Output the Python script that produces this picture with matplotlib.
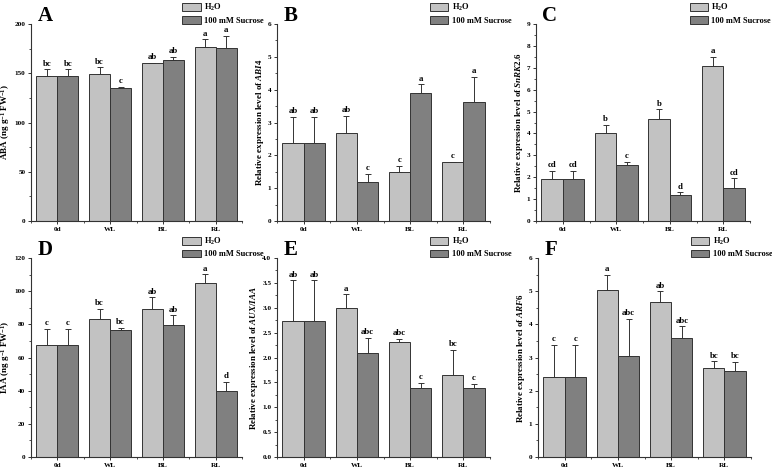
import matplotlib
matplotlib.use("Agg")
import matplotlib.pyplot as plt
import numpy as np
from matplotlib.patches import Patch
from matplotlib.ticker import MultipleLocator, FormatStrFormatter

groups = ["0d", "WL", "BL", "RL"]

# mean values (H2O, sucrose) and upper error bars
aba_h2o = [147, 149.5, 160.3, 176.3]
aba_suc = [147, 135, 163.7, 176]
aba_h2o_err = [7, 6.5, 0.5, 8]
aba_suc_err = [7, 1, 3.3, 12]
aba_h2o_lab = ["bc", "bc", "ab", "a"]
aba_suc_lab = ["bc", "c", "ab", "a"]

abi4_h2o = [2.37, 2.68, 1.49, 1.79]
abi4_suc = [2.37, 1.19, 3.91, 3.62]
abi4_h2o_err = [0.8, 0.53, 0.19, 0.02]
abi4_suc_err = [0.8, 0.25, 0.25, 0.77]
abi4_h2o_lab = ["ab", "ab", "c", "c"]
abi4_suc_lab = ["ab", "c", "a", "a"]

snrk_h2o = [1.93, 4.02, 4.66, 7.07]
snrk_suc = [1.93, 2.57, 1.19, 1.52]
snrk_h2o_err = [0.35, 0.38, 0.44, 0.43]
snrk_suc_err = [0.35, 0.12, 0.12, 0.43]
snrk_h2o_lab = ["cd", "b", "b", "a"]
snrk_suc_lab = ["cd", "c", "d", "cd"]

iaa_h2o = [67.6, 83.5, 89.4, 104.9]
iaa_suc = [67.6, 76.7, 79.3, 39.9]
iaa_h2o_err = [9.7, 5.9, 6.8, 5.2]
iaa_suc_err = [9.7, 1.2, 6.1, 5.6]
iaa_h2o_lab = ["c", "bc", "ab", "a"]
iaa_suc_lab = ["c", "bc", "ab", "d"]

aux_h2o = [2.74, 3.0, 2.31, 1.65]
aux_suc = [2.74, 2.09, 1.39, 1.38]
aux_h2o_err = [0.81, 0.27, 0.06, 0.5]
aux_suc_err = [0.81, 0.3, 0.1, 0.09]
aux_h2o_lab = ["ab", "a", "abc", "bc"]
aux_suc_lab = ["ab", "abc", "c", "c"]

arf6_h2o = [2.4, 5.05, 4.66, 2.69]
arf6_suc = [2.4, 3.06, 3.6, 2.6]
arf6_h2o_err = [0.99, 0.45, 0.33, 0.19]
arf6_suc_err = [0.99, 1.1, 0.34, 0.27]
arf6_h2o_lab = ["c", "a", "ab", "bc"]
arf6_suc_lab = ["c", "abc", "abc", "bc"]

plt.rcParams.update({
    "font.family": "Liberation Serif",
    "font.weight": "bold",
    "mathtext.fontset": "custom",
    "mathtext.rm": "Liberation Serif:bold",
    "mathtext.it": "Liberation Serif:bold:italic",
    "mathtext.bf": "Liberation Serif:bold",
    "axes.linewidth": 0.8,
    "axes.edgecolor": "#333333",
})

C_H2O = "#c2c2c2"
C_SUC = "#808080"
EDGE = "#333333"

fig = plt.figure(figsize=(7.72, 4.70), dpi=100)

W, H = 772, 470


def rect(x0, x1, ytop, ybot):
    return [x0 / W, 1 - ybot / H, (x1 - x0) / W, (ybot - ytop) / H]


panels = [
    ("A", rect(31, 242, 24, 221), aba_h2o, aba_suc, aba_h2o_err, aba_suc_err,
     aba_h2o_lab, aba_suc_lab, 200, 50, 25, "%d",
     r"ABA (ng g$^{-1}$ FW$^{-1}$)"),
    ("B", rect(277, 490, 24, 221), abi4_h2o, abi4_suc, abi4_h2o_err, abi4_suc_err,
     abi4_h2o_lab, abi4_suc_lab, 6, 1, 0.5, "%d",
     r"Relative expression level of $ABI4$"),
    ("C", rect(536, 750, 24, 221), snrk_h2o, snrk_suc, snrk_h2o_err, snrk_suc_err,
     snrk_h2o_lab, snrk_suc_lab, 9, 1, 0.5, "%d",
     r"Relative expression level of $SnRK2.6$"),
    ("D", rect(31, 242, 258, 457), iaa_h2o, iaa_suc, iaa_h2o_err, iaa_suc_err,
     iaa_h2o_lab, iaa_suc_lab, 120, 20, 10, "%d",
     r"IAA (ng g$^{-1}$ FW$^{-1}$)"),
    ("E", rect(277, 490, 258, 457), aux_h2o, aux_suc, aux_h2o_err, aux_suc_err,
     aux_h2o_lab, aux_suc_lab, 4, 0.5, 0.25, "%.1f",
     r"Relative expression level of $AUX/IAA$"),
    ("F", rect(538, 751, 258, 457), arf6_h2o, arf6_suc, arf6_h2o_err, arf6_suc_err,
     arf6_h2o_lab, arf6_suc_lab, 6, 1, 0.5, "%d",
     r"Relative expression level of $ARF6$"),
]

x = np.arange(len(groups))
bw = 0.4

for (letter, r, h2o, suc, eh, es, lh, ls, ymax, major, minor, fmt, ylab) in panels:
    ax = fig.add_axes(r)
    for vals, errs, labs, off, col in [(h2o, eh, lh, -bw / 2, C_H2O),
                                       (suc, es, ls, bw / 2, C_SUC)]:
        ax.bar(x + off, vals, bw, color=col, edgecolor=EDGE, linewidth=0.7,
               zorder=2)
        ax.errorbar(x + off, vals, yerr=[np.zeros(len(vals)), errs], fmt="none",
                    ecolor=EDGE, elinewidth=0.7, capsize=2, capthick=0.7, zorder=3)
        for xi, v, e, t in zip(x + off, vals, errs, labs):
            ax.annotate(t, (xi, v + e), xytext=(0, 1.2), textcoords="offset points",
                        ha="center", va="bottom", fontsize=6.3, fontweight="bold")

    ax.set_xlim(-0.5, 3.5)
    ax.set_ylim(0, ymax)
    ax.set_xticks(x)
    ax.set_xticklabels(groups)
    ax.xaxis.set_minor_locator(MultipleLocator(0.5))
    ax.yaxis.set_major_locator(MultipleLocator(major))
    ax.yaxis.set_minor_locator(MultipleLocator(minor))
    ax.yaxis.set_major_formatter(FormatStrFormatter(fmt))
    ax.tick_params(which="major", length=2.5, width=0.7, labelsize=5.2, pad=1.5,
                   color=EDGE)
    ax.tick_params(which="minor", length=1.3, width=0.6, color=EDGE)
    for s in ["top", "right"]:
        ax.spines[s].set_visible(False)
    for lbl in ax.get_xticklabels() + ax.get_yticklabels():
        lbl.set_fontweight("bold")
    ax.set_ylabel(ylab, fontsize=6.5, fontweight="bold", labelpad=1.5)

    ax.text(0.03, 1.09, letter, transform=ax.transAxes, fontsize=15,
            fontweight="bold", ha="left", va="top")

    handles = [Patch(facecolor=C_H2O, edgecolor=EDGE, linewidth=0.7),
               Patch(facecolor=C_SUC, edgecolor=EDGE, linewidth=0.7)]
    ax.legend(handles, [r"H$_2$O", "100 mM Sucrose"], loc="upper left",
              bbox_to_anchor=(0.71, 1.12), frameon=False,
              handlelength=2.2, handleheight=1.0, handletextpad=0.4,
              labelspacing=0.35, borderpad=0.2, borderaxespad=0,
              prop={"weight": "bold", "size": 6, "family": "Liberation Serif"})

fig.savefig("out.png", dpi=100)
